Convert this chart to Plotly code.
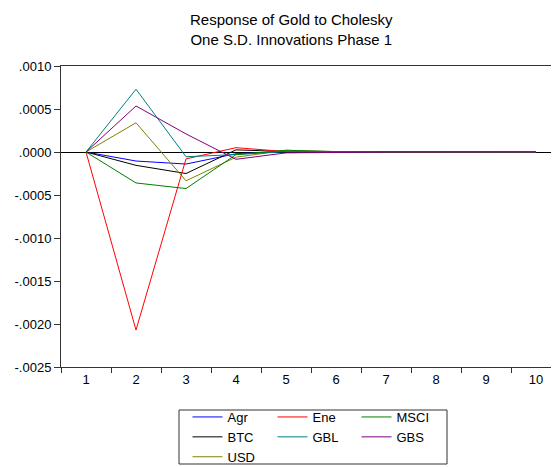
import plotly.graph_objects as go

periods = ["1", "2", "3", "4", "5", "6", "7", "8", "9", "10"]

agr = [0, -0.000105, -0.00014, -0.00002, 0.000005, 0.000002, 0, 0, 0, 0]
ene = [0, -0.00207, -0.00008, 0.00005, 0.000005, 0.000002, 0, 0, 0, 0]
msci = [0, -0.00036, -0.000425, -0.00003, 0.00002, 0.000005, 0.000002, 0, 0, 0]
btc = [0, -0.000155, -0.00025, 0.000025, 0.000005, 0.000002, 0, 0, 0, 0]
gbl = [0, 0.00073, -0.000055, -0.00003, 0.000005, 0.000002, 0, 0, 0, 0]
gbs = [0, 0.000535, 0.00021, -0.000085, -0.00001, -0.000002, 0, 0, 0, 0]
usd = [0, 0.00034, -0.000335, -0.00006, 0.00002, 0.000004, 0.000001, 0, 0, 0]

ytick_vals = [0.001, 0.0005, 0.0, -0.0005, -0.001, -0.0015, -0.002, -0.0025]
ytick_text = [".0010", ".0005", ".0000", "-.0005", "-.0010", "-.0015", "-.0020", "-.0025"]

# name, values, colour, legend column
series = [
    ("Agr", agr, "#0000FF", "legend"),
    ("BTC", btc, "#000000", "legend"),
    ("USD", usd, "#808000", "legend"),
    ("Ene", ene, "#FF0000", "legend2"),
    ("GBL", gbl, "#008080", "legend2"),
    ("MSCI", msci, "#008000", "legend3"),
    ("GBS", gbs, "#800080", "legend3"),
]

FONT = "Arial, Liberation Sans, sans-serif"

fig = go.Figure()
for name, vals, color, leg in series:
    fig.add_trace(go.Scatter(
        x=periods, y=vals, name=name, mode="lines",
        line=dict(color=color, width=1), legend=leg,
    ))

# note: the page body adds ~8px offset, so positions below are shifted up/left
leg_common = dict(
    orientation="v", yref="container", yanchor="top", y=1 - 394 / 467,
    xanchor="left", bgcolor="rgba(0,0,0,0)", borderwidth=0, tracegroupgap=0,
    font=dict(family=FONT, size=13, color="black"),
)

fig.update_layout(
    width=559, height=467,
    margin=dict(l=53, r=6, t=58, b=108),
    paper_bgcolor="white", plot_bgcolor="white",
    font=dict(family=FONT, size=13, color="black"),
    showlegend=True,
    legend=dict(x=0.253, **leg_common),
    legend2=dict(x=0.423, **leg_common),
    legend3=dict(x=0.591, **leg_common),
    xaxis=dict(
        type="category", range=[-0.5, 9.5],
        tickson="boundaries", ticks="outside", ticklen=5, tickcolor="#333",
        showline=True, linecolor="#333", linewidth=1, mirror=True,
        showgrid=False, zeroline=False,
        tickfont=dict(family=FONT, size=13, color="black"),
    ),
    yaxis=dict(
        range=[-0.0025, 0.001],
        tickvals=ytick_vals, ticktext=ytick_text,
        ticks="outside", ticklen=6, tickcolor="#333",
        showline=True, linecolor="#333", linewidth=1,
        showgrid=False, zeroline=True, zerolinecolor="black", zerolinewidth=1,
        tickfont=dict(family=FONT, size=13, color="black"),
    ),
    shapes=[dict(
        type="rect", xref="paper", yref="paper",
        x0=0.236, x1=0.772, y0=-0.3223, y1=-0.1429,
        line=dict(color="#333", width=1), fillcolor="rgba(0,0,0,0)",
    )],
)

# two-line title as an annotation so the block stays inside the page
fig.add_annotation(
    text="Response of Gold to Cholesky<br>One S.D. Innovations Phase 1",
    xref="paper", yref="paper", x=0.461, y=1 + 57 / 301,
    xanchor="center", yanchor="top", align="center", showarrow=False,
    font=dict(family=FONT, size=15, color="black"),
)

fig.write_html("out.html")
